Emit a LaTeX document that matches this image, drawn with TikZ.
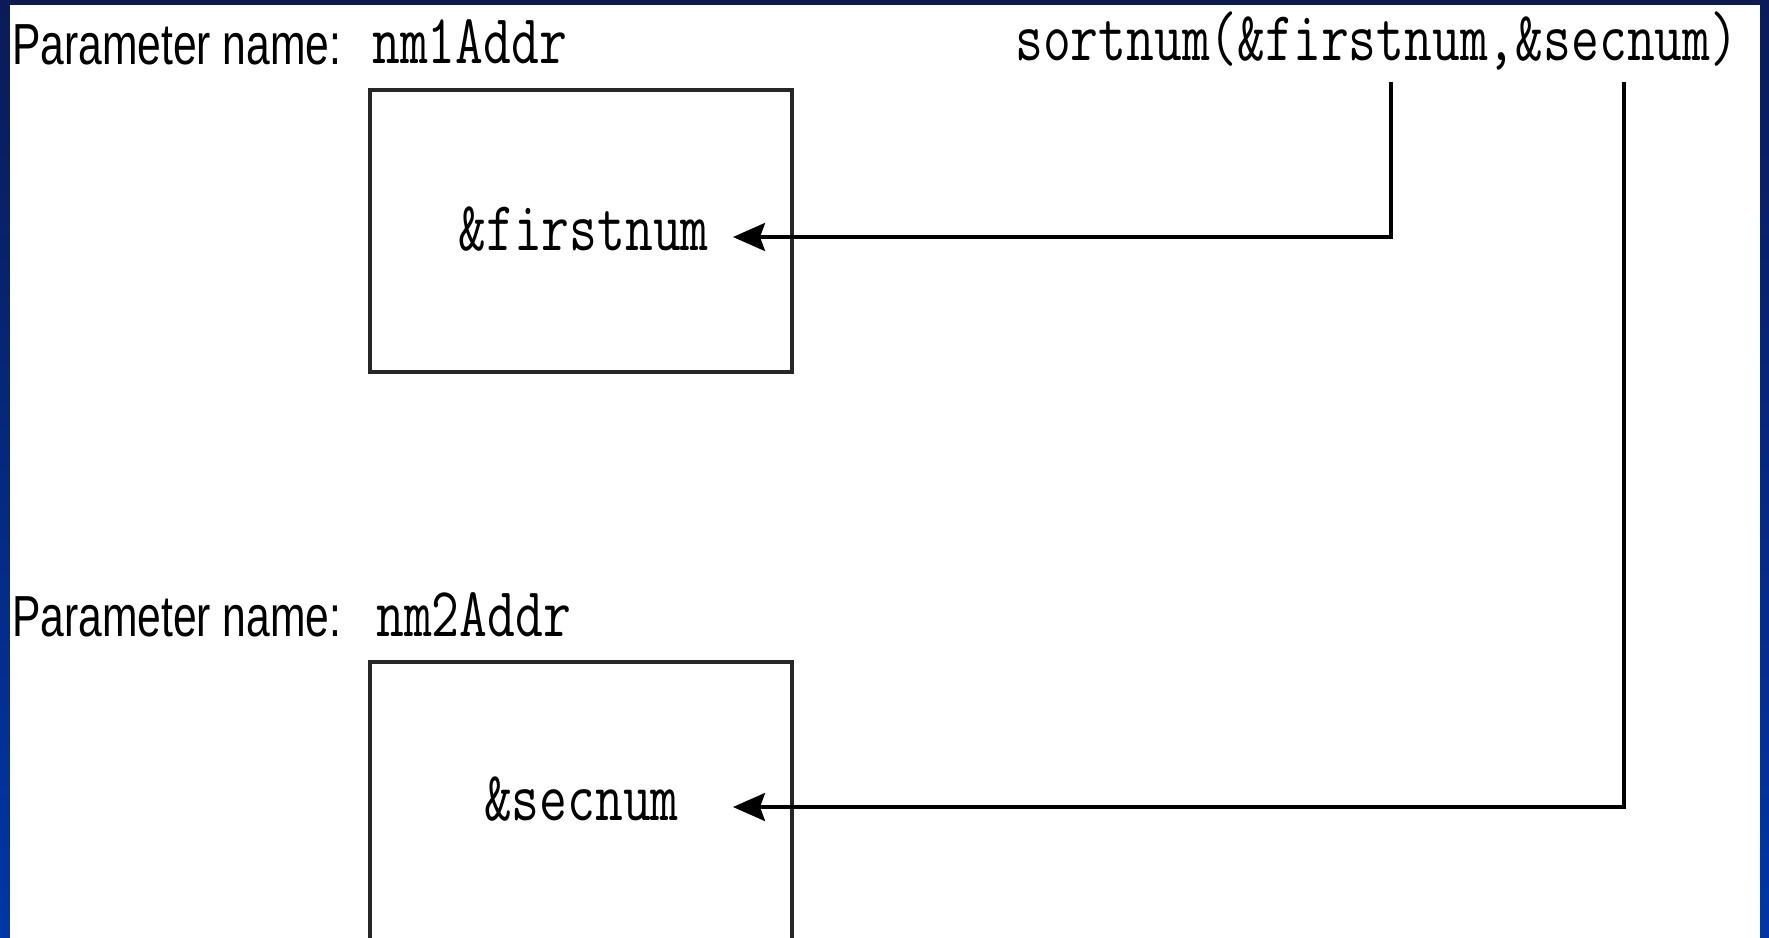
\documentclass[tikz,border=0pt]{standalone}
\usepackage{fontspec}
\setmainfont{Liberation Sans}
\usetikzlibrary{arrows.meta}
\definecolor{frametop}{HTML}{0A1B58}
\definecolor{framebot}{HTML}{0036A6}
\definecolor{boxline}{HTML}{262626}
% tall, slightly stretched lettering
\newcommand{\tallsans}[1]{\scalebox{1}[1.36]{\fontsize{42.6}{50}\selectfont #1}}
\newcommand{\tallmono}[1]{\scalebox{1}[1.3]{\fontsize{54}{60}\selectfont\ttfamily #1}}
\tikzset{
  label/.style={inner sep=0pt, anchor=base west},
  membox/.style={draw=boxline, line width=3.4pt, minimum width=422pt, inner sep=0pt},
  argtext/.style={inner ysep=0pt, text height=26pt, text depth=0pt, anchor=east},
  link/.style={draw=black, line width=3.2pt,
    -{Stealth[length=32pt, width=28pt, inset=5pt]}},
}
\begin{document}
\begin{tikzpicture}[x=1pt, y=-1pt]
  \useasboundingbox (0,0) rectangle (1769,937);
  \clip (0,0) rectangle (1769,937);
  % slide frame
  \shade[top color=frametop, bottom color=framebot] (0,0) rectangle (1769,937);
  \fill[white] (10,5) rectangle (1760,940);

  % first parameter
  \node[label] (pn1) at (12,64) {\tallsans{Parameter name:}};
  \node[label] (nm1) at (372,63) {\tallmono{nm1Addr}};
  \node[membox, minimum height=282pt] (box1) at (581,231) {};
  \node[argtext, inner xsep=24pt] (arg1) at (733,237) {\tallmono{\&firstnum}};

  % second parameter
  \node[label] (pn2) at (12,636) {\tallsans{Parameter name:}};
  \node[label] (nm2) at (376,636) {\tallmono{nm2Addr}};
  \node[membox, minimum height=400pt] (box2) at (581,862) {};
  \node[argtext, inner xsep=54pt] (arg2) at (733,807) {\tallmono{\&secnum}};

  % the call
  \node[label] (call) at (1015,60) {\tallmono{sortnum(\&firstnum,\&secnum)}};
  \coordinate (from1) at (1391,82);
  \coordinate (from2) at (1624,82);

  \draw[link] (from1) |- (arg1.east);
  \draw[link] (from2) |- (arg2.east);
\end{tikzpicture}
\end{document}
